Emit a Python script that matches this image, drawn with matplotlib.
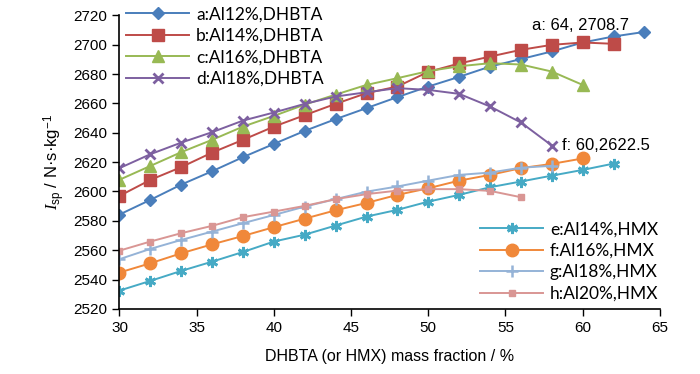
import numpy as np
import matplotlib
matplotlib.use("Agg")
import matplotlib.pyplot as plt

plt.rcParams["font.family"] = ["Liberation Sans", "DejaVu Sans"]
plt.rcParams["mathtext.fontset"] = "custom"
plt.rcParams["mathtext.it"] = "Liberation Serif:italic"
plt.rcParams["mathtext.rm"] = "Liberation Sans"

# mass fraction (%) for each series
x_a = np.arange(30, 65, 2)
x_b = np.arange(30, 63, 2)
x_c = np.arange(30, 61, 2)
x_d = np.arange(30, 59, 2)
x_e = np.arange(30, 63, 2)
x_f = np.arange(30, 61, 2)
x_g = np.arange(30, 59, 2)
x_h = np.arange(30, 57, 2)

# specific impulse, N*s/kg
isp_a = [2584.3, 2594.3, 2604.7, 2613.8, 2623.4, 2632.4, 2641.3, 2649.3, 2656.8,
         2664.3, 2671.5, 2678.1, 2685.1, 2690.2, 2695.4, 2701.5, 2705.6, 2708.7]
isp_b = [2597.0, 2607.9, 2616.6, 2626.5, 2635.2, 2644.2, 2652.0, 2659.7, 2667.0,
         2671.5, 2681.5, 2687.2, 2691.9, 2696.5, 2699.9, 2701.5, 2700.6]
isp_c = [2608.0, 2617.4, 2626.8, 2635.2, 2644.2, 2651.5, 2659.2, 2666.0, 2672.6,
         2677.2, 2682.0, 2685.3, 2687.4, 2686.5, 2681.7, 2672.6]
isp_d = [2615.9, 2625.4, 2633.3, 2640.4, 2648.3, 2653.8, 2659.7, 2664.7, 2667.6,
         2670.4, 2669.2, 2666.5, 2657.9, 2647.0, 2631.3]
isp_e = [2532.5, 2539.1, 2545.9, 2552.2, 2558.8, 2565.9, 2570.6, 2576.8, 2582.9,
         2587.5, 2593.1, 2597.7, 2602.9, 2606.8, 2610.8, 2614.7, 2619.0]
isp_f = [2544.8, 2551.1, 2557.9, 2564.0, 2569.7, 2575.7, 2581.5, 2587.2, 2592.2,
         2597.7, 2602.2, 2607.4, 2611.3, 2615.9, 2618.8, 2622.5]
isp_g = [2553.9, 2560.9, 2567.0, 2572.7, 2578.4, 2584.0, 2589.7, 2594.8, 2599.9,
         2603.4, 2607.4, 2611.3, 2612.9, 2616.2, 2617.5]
isp_h = [2559.7, 2565.9, 2571.6, 2576.6, 2582.5, 2586.3, 2590.2, 2594.8, 2598.2,
         2600.6, 2601.6, 2601.6, 2600.4, 2596.1]

labels_top = ["a:Al12%,DHBTA", "b:Al14%,DHBTA", "c:Al16%,DHBTA", "d:Al18%,DHBTA"]
labels_bot = ["e:Al14%,HMX", "f:Al16%,HMX", "g:Al18%,HMX", "h:Al20%,HMX"]

fig = plt.figure(figsize=(7, 3.74), dpi=100)
ax = fig.add_axes([0.1707, 0.174, 0.772, 0.785])

star = (6, 2, 0)
h1 = []
h1 += ax.plot(x_a, isp_a, color="#4A7EBB", marker="D", ms=6.5, lw=1.4, label=labels_top[0])
h1 += ax.plot(x_b, isp_b, color="#BE4B48", marker="s", ms=8, lw=1.4, label=labels_top[1])
h1 += ax.plot(x_c, isp_c, color="#98B954", marker="^", ms=8, lw=1.4, label=labels_top[2])
h1 += ax.plot(x_d, isp_d, color="#7D60A0", marker="x", ms=7, mew=2, lw=1.4, label=labels_top[3])
h2 = []
h2 += ax.plot(x_e, isp_e, color="#46AAC5", marker=star, ms=8, mew=2, lw=1.4, label=labels_bot[0])
h2 += ax.plot(x_f, isp_f, color="#F0883A", marker="o", ms=9, lw=1.4, label=labels_bot[1])
h2 += ax.plot(x_g, isp_g, color="#95B3D7", marker="+", ms=8, mew=1.8, lw=1.4, label=labels_bot[2])
h2 += ax.plot(x_h, isp_h, color="#D99694", marker="s", ms=4, lw=1.4, label=labels_bot[3])

ax.set_xlim(30, 65)
ax.set_ylim(2520, 2720)
ax.set_xticks(np.arange(30, 66, 5))
ax.set_yticks(np.arange(2520, 2721, 20))
ax.tick_params(direction="out", length=5, width=1, labelsize=11, pad=4)
for s in ["top", "right"]:
    ax.spines[s].set_visible(False)
ax.spines["left"].set_linewidth(1.2)
ax.spines["bottom"].set_linewidth(1.2)

ax.set_xlabel("DHBTA (or HMX) mass fraction / %", fontsize=11.5, labelpad=10)
ax.set_ylabel(r"$I_\mathrm{sp}$ / N·s·kg$^{-1}$", fontsize=12, labelpad=4)

# point labels, placed in pixel coordinates like the original
ax.text(532, 374 - 25, "a: 64, 2708.7", transform=None, fontsize=12, va="center", ha="left")
ax.text(562, 374 - 146, "f: 60,2622.5", transform=None, fontsize=12, va="center", ha="left")

leg_font = {"family": "Lato", "size": 12.5}
leg1 = ax.legend(handles=h1, loc="upper left", bbox_to_anchor=(0.0, 1.055), frameon=False,
                 prop=leg_font, handlelength=3.6, handletextpad=0.4, labelspacing=0.32,
                 borderaxespad=0.0)
ax.add_artist(leg1)
ax.legend(handles=h2, loc="lower right", bbox_to_anchor=(1.01, 0.0), frameon=False,
          prop=leg_font, handlelength=3.6, handletextpad=0.4, labelspacing=0.32,
          borderaxespad=0.0)

fig.savefig("out.png", dpi=100)
